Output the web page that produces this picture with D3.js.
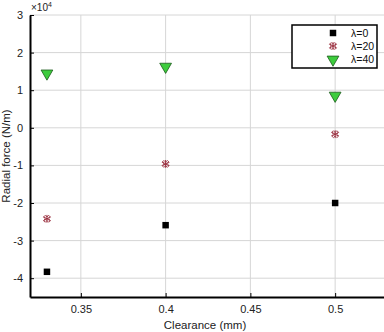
<!DOCTYPE html>
<html>
<head>
<meta charset="utf-8">
<script src="https://cdn.jsdelivr.net/npm/d3@7"></script>
<style>
  body { margin: 0; background: #fff; }
  text { font-family: "Liberation Sans", Arial, sans-serif; }
</style>
</head>
<body>
<svg width="384" height="332"></svg>
<script>
// data (y values in units of 1e4 N/m)
const clearance = [0.33, 0.4, 0.5];
const lambda0 = [-3.83, -2.59, -2.0];
const lambda20 = [-2.42, -0.96, -0.17];
const lambda40 = [1.46, 1.64, 0.87];
const seriesNames = ["\u03bb=0", "\u03bb=20", "\u03bb=40"];
const xTicks = [0.35, 0.4, 0.45, 0.5];
const yTicks = [-4, -3, -2, -1, 0, 1, 2, 3];

const svg = d3.select("svg");
const plotL = 30, plotT = 15, plotR = 386, plotB = 297;

const x = d3.scaleLinear().domain([0.32, 0.53]).range([plotL, plotR]);
const y = d3.scaleLinear().domain([-4.5, 3]).range([plotB, plotT]);

// grid
svg.append("g").selectAll("line").data(xTicks).join("line")
  .attr("x1", d => x(d)).attr("x2", d => x(d))
  .attr("y1", plotT).attr("y2", plotB)
  .attr("stroke", "#d6d6d6").attr("stroke-width", 1);
svg.append("g").selectAll("line").data(yTicks).join("line")
  .attr("x1", plotL).attr("x2", plotR)
  .attr("y1", d => y(d)).attr("y2", d => y(d))
  .attr("stroke", "#d6d6d6").attr("stroke-width", 1);

// axes
const xAxis = svg.append("g").attr("transform", `translate(0,${plotB})`)
  .call(d3.axisBottom(x).tickValues(xTicks).tickSizeInner(-4).tickSizeOuter(0)
    .tickFormat(d => String(d)));
const yAxis = svg.append("g").attr("transform", `translate(${plotL},0)`)
  .call(d3.axisLeft(y).tickValues(yTicks).tickSizeInner(-4).tickSizeOuter(0)
    .tickFormat(d => String(d)));
[xAxis, yAxis].forEach(g => {
  g.select(".domain").attr("stroke", "#000").attr("stroke-width", 2);
  g.selectAll(".tick line").attr("stroke", "#000").attr("stroke-width", 1);
  g.selectAll(".tick text").attr("font-size", 11).attr("fill", "#222")
    .attr("font-family", "Liberation Sans, Arial, sans-serif");
});
xAxis.selectAll(".tick text").attr("y", 8);
yAxis.selectAll(".tick text").attr("x", -7);

// exponent
const ex = svg.append("text").attr("x", plotL + 1).attr("y", 11).attr("font-size", 10).attr("fill", "#222");
ex.append("tspan").text("\u00d710");
ex.append("tspan").attr("dy", -4).attr("font-size", 7).text("4");

// axis labels
svg.append("text").attr("x", 205).attr("y", 329).attr("text-anchor", "middle")
  .attr("font-size", 11.5).attr("fill", "#222").text("Clearance (mm)");
svg.append("text").attr("transform", "translate(10,156) rotate(-90)")
  .attr("text-anchor", "middle").attr("font-size", 11.5).attr("fill", "#222")
  .text("Radial force (N/m)");

// markers
const sym = {
  square: d3.symbol().type(d3.symbolSquare).size(42),
  star: d3.symbol().type(d3.symbolAsterisk).size(42),
  tri: d3.symbol().type(d3.symbolTriangle).size(60)
};
function drawSeries(vals, kind) {
  const g = svg.append("g");
  vals.forEach((v, i) => drawMarker(g, x(clearance[i]), y(v), kind));
}
function drawMarker(g, cx, cy, kind) {
  if (kind === "square") {
    g.append("path").attr("d", sym.square()).attr("transform", `translate(${cx},${cy})`)
      .attr("fill", "#000");
  } else if (kind === "star") {
    g.append("path").attr("d", sym.star()).attr("transform", `translate(${cx},${cy})`)
      .attr("fill", "none").attr("stroke", "#9b3040").attr("stroke-width", 1);
    g.append("path").attr("d", d3.symbol().type(d3.symbolCross).size(30)())
      .attr("transform", `translate(${cx},${cy}) rotate(45)`)
      .attr("fill", "none").attr("stroke", "#9b3040").attr("stroke-width", 0.8);
  } else {
    g.append("path").attr("d", sym.tri()).attr("transform", `translate(${cx},${cy + 0.5}) rotate(180)`)
      .attr("fill", "#3dcc3d").attr("stroke", "#1d5a1d").attr("stroke-width", 0.8);
  }
}
drawSeries(lambda0, "square");
drawSeries(lambda20, "star");
drawSeries(lambda40, "tri");

// legend
const lg = svg.append("g");
lg.append("rect").attr("x", 292).attr("y", 25).attr("width", 85).attr("height", 43)
  .attr("fill", "#fff").attr("stroke", "#000").attr("stroke-width", 1.5);
const kinds = ["square", "star", "tri"];
seriesNames.forEach((name, i) => {
  const ly = 33 + i * 13;
  drawMarker(lg, 333, ly, kinds[i]);
  lg.append("text").attr("x", 351).attr("y", ly + 4).attr("font-size", 10.5)
    .attr("fill", "#111").text(name);
});
</script>
</body>
</html>
